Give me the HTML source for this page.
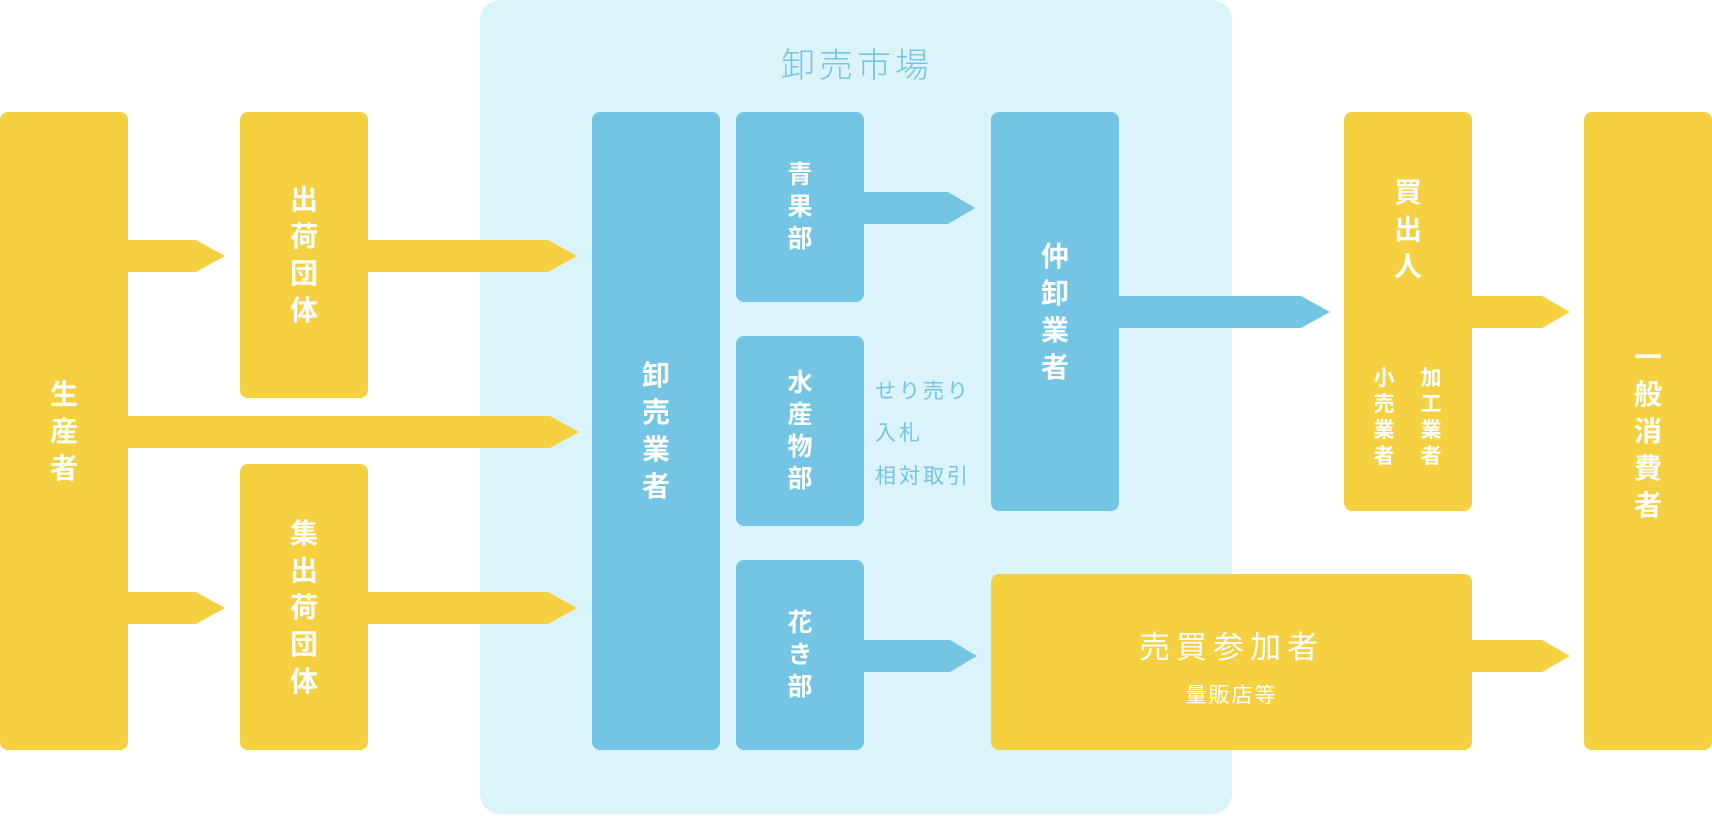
<!DOCTYPE html>
<html><head><meta charset="utf-8"><style>
html,body{margin:0;padding:0;background:#fff;}
#c{position:relative;width:1712px;height:816px;overflow:hidden;font-family:"Liberation Sans","Noto Sans CJK JP",sans-serif;}
svg{position:absolute;left:0;top:0;}
.v{position:absolute;display:flex;flex-direction:column;align-items:center;justify-content:center;color:#fff;font-weight:bold;}
.v span{display:block;text-align:center;}
.t{position:absolute;white-space:nowrap;}
</style></head><body><div id="c">
<svg width="1712" height="816" viewBox="0 0 1712 816">
<rect x="480" y="0" width="752" height="814" rx="20" fill="#dbf3fa"/>
<g fill="#f5d142">
<rect x="0" y="112" width="128" height="638" rx="8"/>
<rect x="240" y="112" width="128" height="286" rx="8"/>
<rect x="240" y="464" width="128" height="286" rx="8"/>
<rect x="991" y="574" width="481" height="176" rx="8"/>
<rect x="1344" y="112" width="128" height="399" rx="8"/>
<rect x="1584" y="112" width="128" height="638" rx="8"/>
<path d="M128 240H196L225 256L196 272H128Z"/>
<path d="M368 240H548L577 256L548 272H368Z"/>
<path d="M128 416H550L579 432L550 448H128Z"/>
<path d="M128 592H196L225 608L196 624H128Z"/>
<path d="M368 592H548L577 608L548 624H368Z"/>
<path d="M1472 296H1542L1570 312L1542 328H1472Z"/>
<path d="M1472 640H1542L1570 656L1542 672H1472Z"/>
</g>
<g fill="#73c5e3">
<rect x="592" y="112" width="128" height="638" rx="8"/>
<rect x="736" y="112" width="128" height="190" rx="8"/>
<rect x="736" y="336" width="128" height="190" rx="8"/>
<rect x="736" y="560" width="128" height="190" rx="8"/>
<rect x="991" y="112" width="128" height="399" rx="8"/>
<path d="M864 192H948L975 208L948 224H864Z"/>
<path d="M864 640H950L977 656L950 672H864Z"/>
<path d="M1119 296H1301L1330 312L1301 328H1119Z"/>
</g>
</svg>
<div class="t" style="left:757px;top:38px;width:200px;text-align:center;font-size:34px;color:#74c5e3;letter-spacing:4px;font-weight:300;">卸売市場</div>

<div class="v" style="left:0;top:112px;width:128px;height:638px;font-size:28px;line-height:37px;"><span>生</span><span>産</span><span>者</span></div>
<div class="v" style="left:240px;top:112px;width:128px;height:286px;font-size:28px;line-height:37px;"><span>出</span><span>荷</span><span>団</span><span>体</span></div>
<div class="v" style="left:240px;top:464px;width:128px;height:286px;font-size:28px;line-height:37px;"><span>集</span><span>出</span><span>荷</span><span>団</span><span>体</span></div>
<div class="v" style="left:592px;top:112px;width:128px;height:638px;font-size:28px;line-height:37px;"><span>卸</span><span>売</span><span>業</span><span>者</span></div>
<div class="v" style="left:736px;top:112px;width:128px;height:190px;font-size:25px;line-height:32px;"><span>青</span><span>果</span><span>部</span></div>
<div class="v" style="left:736px;top:336px;width:128px;height:190px;font-size:25px;line-height:32px;"><span>水</span><span>産</span><span>物</span><span>部</span></div>
<div class="v" style="left:736px;top:560px;width:128px;height:190px;font-size:25px;line-height:32px;"><span>花</span><span>き</span><span>部</span></div>
<div class="v" style="left:991px;top:112px;width:128px;height:399px;font-size:28px;line-height:37px;"><span>仲</span><span>卸</span><span>業</span><span>者</span></div>
<div class="v" style="left:1344px;top:173px;width:128px;height:112px;font-size:28px;line-height:37px;"><span>買</span><span>出</span><span>人</span></div>
<div class="v" style="left:1364px;top:366px;width:40px;height:108px;font-size:21px;line-height:26px;justify-content:flex-start;"><span>小</span><span>売</span><span>業</span><span>者</span></div>
<div class="v" style="left:1411px;top:366px;width:40px;height:108px;font-size:21px;line-height:26px;justify-content:flex-start;"><span>加</span><span>工</span><span>業</span><span>者</span></div>
<div class="v" style="left:1584px;top:112px;width:128px;height:638px;font-size:28px;line-height:37px;"><span>一</span><span>般</span><span>消</span><span>費</span><span>者</span></div>

<div class="t" style="left:875px;top:375px;font-size:21px;color:#74c5e3;letter-spacing:3px;">せり売り</div>
<div class="t" style="left:875px;top:417px;font-size:21px;color:#74c5e3;letter-spacing:3px;">入札</div>
<div class="t" style="left:875px;top:460px;font-size:21px;color:#74c5e3;letter-spacing:3px;">相対取引</div>

<div class="t" style="left:991px;top:622px;width:481px;text-align:center;font-size:31px;color:#fff;letter-spacing:6px;">売買参加者</div>
<div class="t" style="left:991px;top:679px;width:481px;text-align:center;font-size:21px;color:#fff;letter-spacing:2px;">量販店等</div>
</div></body></html>
